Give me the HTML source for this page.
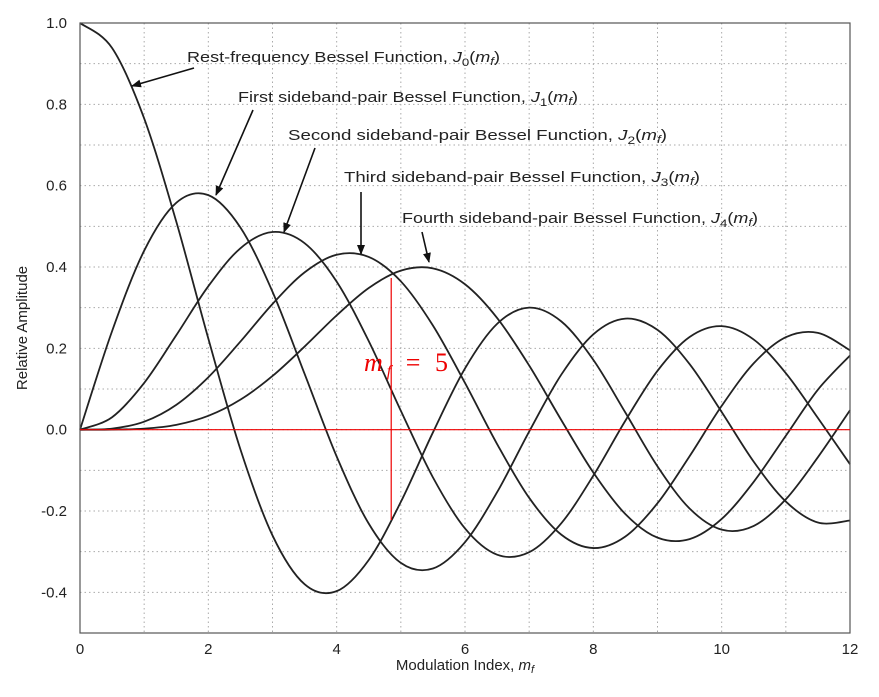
<!DOCTYPE html>
<html><head><meta charset="utf-8"><style>
html,body{margin:0;padding:0;background:#fff;}
svg{display:block;font-family:"Liberation Sans",Arial,sans-serif;}
</style></head><body>
<svg id="chart" width="879" height="697" xmlns="http://www.w3.org/2000/svg">
<g id="grid"></g>
<g id="curves"></g>
<g id="axes"></g>
<g id="annot"></g>
</svg>
<script>
const xs = [0,0.5,1,1.5,2,2.5,3,3.5,4,4.5,5,5.5,6,6.5,7,7.5,8,8.5,9,9.5,10,10.5,11,11.5,12];
const j0 = [1,0.9385,0.7652,0.5118,0.2239,-0.0484,-0.2601,-0.3801,-0.3971,-0.3205,-0.1776,-0.0068,0.1506,0.2601,0.3001,0.2663,0.1717,0.0419,-0.0903,-0.1939,-0.2459,-0.2366,-0.1712,-0.0677,0.0477];
const j1 = [0,0.2423,0.4401,0.5579,0.5767,0.4971,0.3391,0.1374,-0.0660,-0.2311,-0.3276,-0.3414,-0.2767,-0.1538,-0.0047,0.1352,0.2346,0.2731,0.2453,0.1613,0.0435,-0.0789,-0.1768,-0.2284,-0.2234];
const j2 = [0,0.0306,0.1149,0.2321,0.3528,0.4461,0.4861,0.4586,0.3641,0.2178,0.0466,-0.1173,-0.2429,-0.3074,-0.3014,-0.2303,-0.1130,0.0223,0.1448,0.2279,0.2546,0.2216,0.1390,0.0286,-0.0849];
const j3 = [0,0.0026,0.0196,0.0610,0.1289,0.2166,0.3091,0.3868,0.4302,0.4247,0.3648,0.2561,0.1148,-0.0353,-0.1676,-0.2581,-0.2911,-0.2626,-0.1809,-0.0653,0.0584,0.1633,0.2273,0.2381,0.1951];
const j4 = [0,0.0002,0.0025,0.0118,0.0340,0.0738,0.1320,0.2044,0.2811,0.3484,0.3912,0.3967,0.3576,0.2748,0.1578,0.0238,-0.1054,-0.2077,-0.2655,-0.2691,-0.2196,-0.1282,-0.0150,0.0984,0.1825];
const xTicks = [0,2,4,6,8,10,12];
const yTicks = [-0.4,-0.2,0.0,0.2,0.4,0.6,0.8,1.0];
const yTickLabels = ["-0.4","-0.2","0.0","0.2","0.4","0.6","0.8","1.0"];
const markerX = 4.85;

const L=80,R=850,T=23,B=633,X0=0,X1=12,Y0=-0.5,Y1=1.0;
const sx=v=>L+(v-X0)/(X1-X0)*(R-L);
const sy=v=>B-(v-Y0)/(Y1-Y0)*(B-T);
const NS="http://www.w3.org/2000/svg";
function mk(tag,attrs,parent){const e=document.createElementNS(NS,tag);for(const k in attrs)e.setAttribute(k,attrs[k]);parent.appendChild(e);return e;}
const grid=document.getElementById('grid'),curves=document.getElementById('curves'),axes=document.getElementById('axes'),annot=document.getElementById('annot');

for(let i=1;i<12;i++){const g=mk('line',{x1:sx(i),x2:sx(i),y1:T,y2:B,stroke:'#aaa','stroke-width':1,'stroke-dasharray':'1.5,3'},grid);

}
for(let i=1;i<15;i++){const v=Y0+i*0.1;const g=mk('line',{x1:L,x2:R,y1:sy(v),y2:sy(v),stroke:'#aaa','stroke-width':1,'stroke-dasharray':'1.5,3'},grid);

}

function pathFor(ys){const p=xs.map((x,i)=>[sx(x),sy(ys[i])]);let d='M'+p[0][0]+','+p[0][1];
for(let i=0;i<p.length-1;i++){const a=p[Math.max(0,i-1)],b=p[i],c=p[i+1],e=p[Math.min(p.length-1,i+2)];
d+=' C'+(b[0]+(c[0]-a[0])/6)+','+(b[1]+(c[1]-a[1])/6)+' '+(c[0]-(e[0]-b[0])/6)+','+(c[1]-(e[1]-b[1])/6)+' '+c[0]+','+c[1];}return d;}
const series=[j0,j1,j2,j3,j4];
series.forEach((s,i)=>{const p=mk('path',{d:pathFor(s),fill:'none',stroke:'#222','stroke-width':1.8},curves);

});

const z=mk('line',{x1:L,x2:R,y1:sy(0),y2:sy(0),stroke:'#e00','stroke-width':1.2},annot);


const mv=mk('line',{x1:sx(markerX),x2:sx(markerX),y1:278,y2:520,stroke:'#e00','stroke-width':1.2},annot);



const fr=mk('rect',{x:L,y:T,width:R-L,height:B-T,fill:'none',stroke:'#555','stroke-width':1.2},axes);


xTicks.forEach(v=>{const t=mk('text',{x:sx(v),y:654,'font-size':15,'text-anchor':'middle',fill:'#222'},axes);t.textContent=String(v);

});
yTicks.forEach((v,i)=>{const t=mk('text',{x:67,y:sy(v)+5,'font-size':15,'text-anchor':'end',fill:'#222'},axes);t.textContent=yTickLabels[i];

});
</script>
<svg width="879" height="697" style="position:absolute;left:0;top:0">
<defs><marker id="ah" markerWidth="10" markerHeight="8" refX="9" refY="4" orient="auto" markerUnits="userSpaceOnUse"><path d="M0,0 L10,4 L0,8 z" fill="#111"/></marker></defs>
<text x="465" y="670" font-size="15" text-anchor="middle" fill="#222" font-family="Liberation Sans, sans-serif">Modulation Index, <tspan font-style="italic">m<tspan font-size="11" dy="3">f</tspan></tspan></text>
<text transform="translate(27,328) rotate(-90)" font-size="15" text-anchor="middle" fill="#222" font-family="Liberation Sans, sans-serif">Relative Amplitude</text>
<g font-family="Liberation Sans, sans-serif" font-size="15" fill="#222">
<text x="187" y="62" textLength="313" lengthAdjust="spacingAndGlyphs">Rest-frequency Bessel Function, <tspan font-style="italic">J</tspan><tspan font-size="11" dy="4">0</tspan><tspan dy="-4">(</tspan><tspan font-style="italic">m</tspan><tspan font-size="11" dy="3" font-style="italic">f</tspan><tspan dy="-3">)</tspan></text>
<text x="238" y="102" textLength="340" lengthAdjust="spacingAndGlyphs">First  sideband-pair Bessel Function, <tspan font-style="italic">J</tspan><tspan font-size="11" dy="4">1</tspan><tspan dy="-4">(</tspan><tspan font-style="italic">m</tspan><tspan font-size="11" dy="3" font-style="italic">f</tspan><tspan dy="-3">)</tspan></text>
<text x="288" y="140" textLength="379" lengthAdjust="spacingAndGlyphs">Second  sideband-pair Bessel Function, <tspan font-style="italic">J</tspan><tspan font-size="11" dy="4">2</tspan><tspan dy="-4">(</tspan><tspan font-style="italic">m</tspan><tspan font-size="11" dy="3" font-style="italic">f</tspan><tspan dy="-3">)</tspan></text>
<text x="344" y="182" textLength="356" lengthAdjust="spacingAndGlyphs">Third  sideband-pair Bessel Function, <tspan font-style="italic">J</tspan><tspan font-size="11" dy="4">3</tspan><tspan dy="-4">(</tspan><tspan font-style="italic">m</tspan><tspan font-size="11" dy="3" font-style="italic">f</tspan><tspan dy="-3">)</tspan></text>
<text x="402" y="223" textLength="356" lengthAdjust="spacingAndGlyphs">Fourth  sideband-pair Bessel Function, <tspan font-style="italic">J</tspan><tspan font-size="11" dy="4">4</tspan><tspan dy="-4">(</tspan><tspan font-style="italic">m</tspan><tspan font-size="11" dy="3" font-style="italic">f</tspan><tspan dy="-3">)</tspan></text>
</g>
<g stroke="#111" stroke-width="1.6" marker-end="url(#ah)">
<line x1="194" y1="68" x2="132" y2="86"/>
<line x1="253" y1="110" x2="216" y2="195"/>
<line x1="315" y1="148" x2="284" y2="232"/>
<line x1="361" y1="192" x2="361" y2="254"/>
<line x1="422" y1="232" x2="429" y2="262"/>
</g>
<text x="364" y="371" font-size="26" fill="#e00" font-family="Liberation Serif, serif" textLength="84" lengthAdjust="spacing"><tspan font-style="italic">m</tspan><tspan font-style="italic" font-size="16" dy="5">f</tspan><tspan dy="-5"> = 5</tspan></text>
</svg>
</body></html>
